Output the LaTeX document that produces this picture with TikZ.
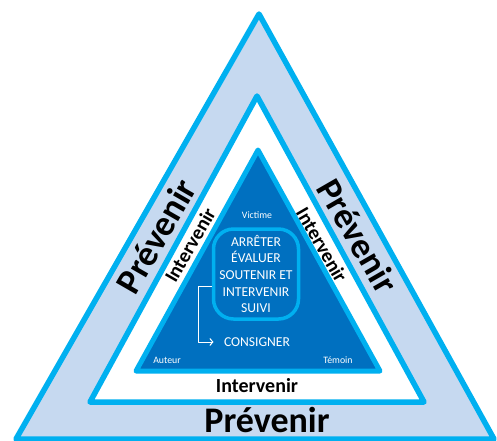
\documentclass[tikz,border=0pt]{standalone}
\usepackage{fontspec}
\setmainfont{Carlito}
\usetikzlibrary{arrows.meta}
\definecolor{lightfill}{RGB}{198,217,240}
\definecolor{cyanline}{RGB}{0,176,240}
\definecolor{darkfill}{RGB}{0,112,192}
\begin{document}
\begin{tikzpicture}[x=1pt,y=-1pt,line join=round,
  tri/.style={draw=cyanline,line width=5.5pt,line join=round},
  prev/.style={font=\fontsize{36}{36}\selectfont\bfseries,inner sep=0pt},
  interv/.style={font=\fontsize{20}{20}\selectfont\bfseries,inner sep=0pt},
  small/.style={font=\fontsize{9.8}{10}\selectfont,text=white,inner sep=0pt},
  caps/.style={font=\fontsize{13.6}{16.6}\selectfont,text=white},
  arr/.style={draw=white,line width=1pt,-{Straight Barb[length=3pt,width=7pt]}}]
\useasboundingbox (0,0) rectangle (497,440);
% triangles
\filldraw[tri,fill=lightfill] (259,14) -- (16,439) -- (494,439) -- cycle;
\filldraw[tri,fill=white] (257,96) -- (90,402) -- (424,402) -- cycle;
\filldraw[tri,line width=5pt,fill=darkfill] (258,150) -- (136,371) -- (380,371) -- cycle;
% outer labels
\node[prev,anchor=base] (pb) at (267,432) {Prévenir};
\node[prev,rotate=60] (pl) at (156,236) {Prévenir};
\node[prev,rotate=-60] (pr) at (358,236) {Prévenir};
% middle labels
\node[interv,anchor=base] (ib) at (257,392) {Intervenir};
\node[interv,rotate=60] (il) at (190,245) {Intervenir};
\node[interv,rotate=-60] (ir) at (322,245) {Intervenir};
% inner
\node[small] (vic) at (257,215) {Victime};
\node[small] (aut) at (167,360) {Auteur};
\node[small] (tem) at (338,360) {Témoin};
\node[caps,align=center,draw=cyanline,line width=3.5pt,fill=darkfill,
  rounded corners=20pt,minimum width=85pt,minimum height=90pt,inner sep=2pt]
  (box) at (256,274) {ARRÊTER\\ÉVALUER\\SOUTENIR ET\\INTERVENIR\\SUIVI};
\node[caps] (cons) at (257,342) {CONSIGNER};
\draw[arr,shorten >=7pt] (box.west |- 0,286) -- ++(-13,0) |- (cons.west);
\end{tikzpicture}
\end{document}
